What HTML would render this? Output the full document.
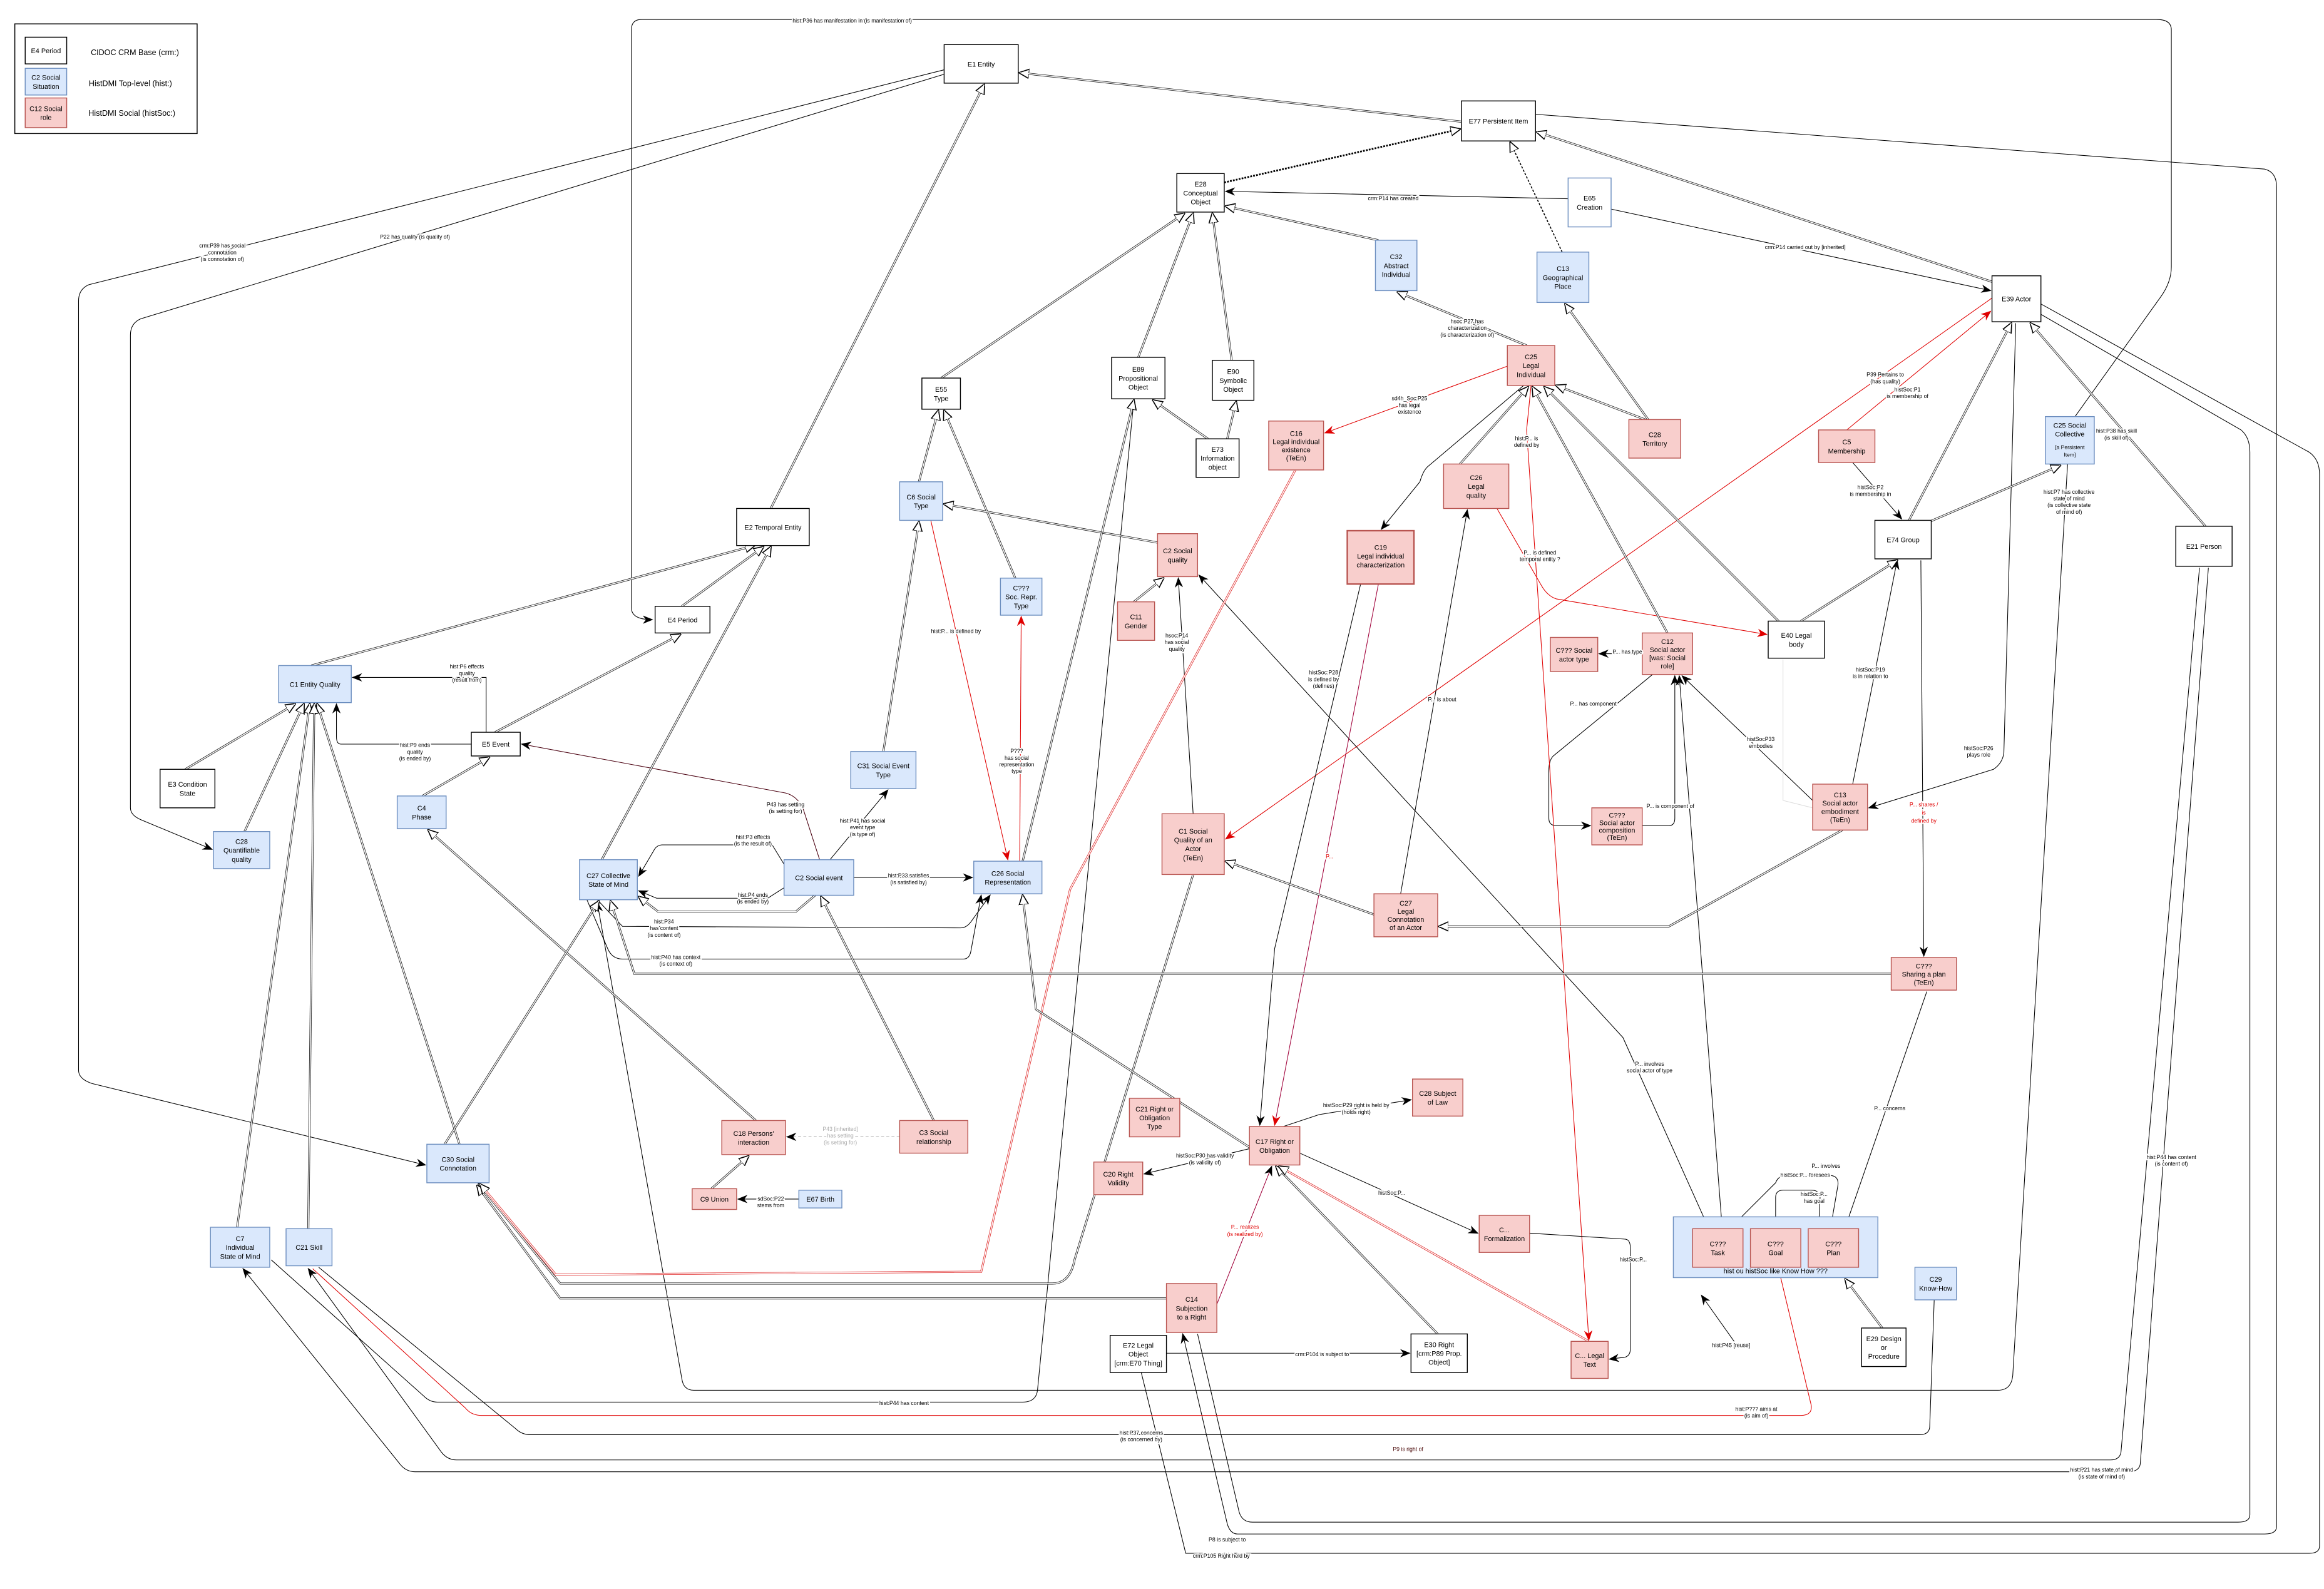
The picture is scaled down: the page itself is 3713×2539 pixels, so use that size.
<!DOCTYPE html>
<html><head><meta charset="utf-8"><style>
html,body{margin:0;padding:0;background:#fff}
svg{display:block}
text{font-family:"Liberation Sans",sans-serif;fill:#000}
.n{font-size:4.6px;text-anchor:middle}
.l{font-size:3.7px;text-anchor:middle;paint-order:stroke;stroke:#fff;stroke-width:1.6px}
.lr{fill:#e00000}
.w{fill:#fff;stroke:#000;stroke-width:0.6}
.b{fill:#dae8fc;stroke:#6c8ebf;stroke-width:0.6}
.p{fill:#f8cecc;stroke:#b85450;stroke-width:0.6}
.t{fill:none;stroke:#000;stroke-width:0.45}
.tr{fill:none;stroke:#e00000;stroke-width:0.45}
.do{fill:none;stroke:#222;stroke-width:1.35}
.di{fill:none;stroke:#fff;stroke-width:0.65}
.dro{fill:none;stroke:#e03030;stroke-width:1.35}
</style></head><body>
<svg width="3713" height="2539" viewBox="0 0 1568 1072" xmlns="http://www.w3.org/2000/svg">
<defs>
<marker id="a" viewBox="0 0 10 10" refX="9" refY="5" markerWidth="7" markerHeight="7" orient="auto" markerUnits="userSpaceOnUse"><path d="M0,1 L10,5 L0,9 L3,5z" fill="#000"/></marker>
<marker id="ar" viewBox="0 0 10 10" refX="9" refY="5" markerWidth="7" markerHeight="7" orient="auto" markerUnits="userSpaceOnUse"><path d="M0,1 L10,5 L0,9 L3,5z" fill="#e00000"/></marker>
<marker id="h" viewBox="0 0 10 10" refX="9" refY="5" markerWidth="7" markerHeight="7" orient="auto" markerUnits="userSpaceOnUse"><path d="M0,0.5 L10,5 L0,9.5z" fill="#fff" stroke="#000" stroke-width="1"/></marker>
</defs>
<rect width="1568" height="1072" fill="#fff"/>

<!-- legend -->
<rect x="10" y="16" width="123" height="74" fill="#fff" stroke="#000" stroke-width="0.6"/>
<rect class="w" x="17" y="25" width="28" height="18"/><text class="n" x="31" y="35.8">E4 Period</text>
<text class="n" x="91" y="37" style="font-size:5.3px">CIDOC CRM Base (crm:)</text>
<rect class="b" x="17" y="46" width="28" height="18"/><text class="n" x="31" y="53.8">C2 Social</text><text class="n" x="31" y="59.8">Situation</text>
<text class="n" x="88" y="58" style="font-size:5.3px">HistDMI Top-level (hist:)</text>
<rect class="p" x="17" y="66" width="28" height="20"/><text class="n" x="31" y="74.8">C12 Social</text><text class="n" x="31" y="80.8">role</text>
<text class="n" x="89" y="78" style="font-size:5.3px">HistDMI Social (histSoc:)</text>

<!-- thin long edges -->
<path class="t" d="M1400,281 L1458,200 Q1465,190 1465,180 L1465,20 Q1465,13 1455,13 L433,13 Q426,13 426,20 L426,410 Q426,418 440,418" marker-end="url(#a)"/>
<path class="t" d="M637,47 L60,192 Q53,195 53,203 L53,722 Q53,728 62,731 L287,786" marker-end="url(#a)"/>
<path class="t" d="M637,50 L95,215 Q88,218 88,226 L88,545 Q88,550 95,553 L143,573" marker-end="url(#a)"/>
<path class="t" d="M1058,134 L827,129" marker-end="url(#a)"/>
<path class="t" d="M1087,141 L1343,196" marker-end="url(#a)"/>
<path class="t" d="M1036,77 L1528,114 Q1536,116 1536,126 L1536,1030 Q1536,1035 1528,1035 L835,1035 Q830,1035 828,1028 L798,900" marker-end="url(#a)"/>
<path class="t" d="M1377,205 L1558,305 Q1565,310 1565,320 L1565,1043 Q1565,1048 1558,1048 L800,1048 L770,926"/>
<path class="t" d="M1377,212 L1512,290 Q1518,295 1518,305 L1518,1022 Q1518,1027 1510,1027 L845,1027 Q838,1027 836,1020 L808,900"/>
<path class="t" d="M1395,313 L1358,928 Q1357,938 1348,938 L468,938 Q461,938 460,930 L403,609" marker-end="url(#a)"/>
<path class="t" d="M765,270 L700,938 Q699,946 690,946 L295,946 Q290,946 286,942 L183,850"/>
<path class="tr" d="M1200,856 L1222,948 Q1223,955 1215,955 L325,955 Q318,955 314,950 L211,856" marker-start="url(#ar)"/>
<path class="t" d="M1305,877 L1302,962 Q1302,968 1295,968 L358,968 Q352,968 348,964 L215,855" marker-start="url(#a)"/>
<path class="t" d="M1484,383 L1431,980 Q1430,985 1424,985 L308,985 Q302,985 298,980 L208,856" marker-end="url(#a)"/>
<path class="t" d="M1490,383 L1444,988 Q1443,993 1436,993 L280,993 Q274,993 270,988 L164,856" marker-end="url(#a)"/>

<!-- right cluster thin -->
<path class="t" d="M1360,218 L1352,508 Q1351,515 1345,519 L1261,545" marker-end="url(#a)"/>
<path class="tr" d="M1344,201 L827,566" marker-end="url(#ar)"/>
<path class="tr" d="M1246,290 L1343,210" marker-end="url(#ar)"/>
<path class="t" d="M1250,312 L1283,350" marker-end="url(#a)"/>
<path class="t" d="M1250,529 L1280,378" marker-end="url(#a)"/>
<path class="t" d="M1296,378 L1298,645" marker-end="url(#a)"/>
<path class="t" d="M1300,669 L1245,828" marker-end="url(#a)"/>
<path class="t" d="M1235,829 L1240,800 Q1241,793 1234,793 L1205,793 Q1200,793 1198,798 L1168,828" marker-end="url(#a)"/>
<path class="t" d="M1227,829 L1228,808 Q1228,803 1222,803 L1203,803 Q1198,803 1198,808 L1198,828" marker-end="url(#a)"/>
<path class="t" d="M1153,829 L1095,700 L809,388" marker-end="url(#a)"/>
<path class="t" d="M1162,829 L1133,456" marker-end="url(#a)"/>
<path class="t" d="M1223,540 L1135,456" marker-end="url(#a)"/>
<path class="t" d="M1108,441 L1079,441" marker-end="url(#a)"/>
<path class="t" d="M1115,455 L1048,510 Q1045,513 1045,520 L1045,552 Q1045,557 1050,557 L1073,557" marker-end="url(#a)"/>
<path class="t" d="M1108,557 L1126,557 Q1130,557 1130,552 L1130,456" marker-end="url(#a)"/>
<path class="t" d="M1203,445 L1203,540 L1223,545" style="stroke:#ddd"/>
<path class="t" d="M1028,260 L963,315 Q960,318 958,325 L932,357" marker-end="url(#a)"/>
<path class="tr" d="M1017,247 L894,292" marker-end="url(#ar)"/>
<path class="tr" d="M1033,260 L1030,290 L1072,904" marker-end="url(#ar)"/>
<path class="tr" d="M1010,343 L1040,395 Q1044,402 1050,404 L1192,428" marker-end="url(#ar)"/>
<path class="t" d="M945,603 L990,344" marker-end="url(#a)"/>
<path class="t" d="M918,394 L860,640 L850,759" marker-end="url(#a)"/>
<path class="tr" d="M930,394 L860,759" style="stroke:#a0003a" marker-end="url(#ar)"/>
<path class="t" d="M805,549 L795,390" marker-end="url(#a)"/>
<path class="t" d="M866,760 L890,752 L952,742" marker-end="url(#a)"/>
<path class="t" d="M843,775 L772,792" marker-end="url(#a)"/>
<path class="t" d="M877,778 L997,832" marker-end="url(#a)"/>
<path class="t" d="M1032,832 L1096,836 Q1100,836 1100,842 L1100,910 Q1100,916 1094,916 L1086,917" marker-end="url(#a)"/>
<path class="t" d="M821,880 L858,787" style="stroke:#a0003a" marker-end="url(#a)"/>
<path class="t" d="M787,913 L951,913" marker-end="url(#a)"/>
<path class="t" d="M1170,905 L1148,874" marker-end="url(#a)"/>

<!-- left cluster thin -->
<path class="t" d="M328,494 L328,457 L238,457" marker-end="url(#a)"/>
<path class="t" d="M318,502 L230,502 Q227,502 227,497 L227,475" marker-end="url(#a)"/>
<path class="t" d="M553,580 L542,546 Q538,537 530,535 L352,502" style="stroke:#4a0010" marker-end="url(#a)"/>
<path class="t" d="M532,588 L521,570 L447,570 Q443,570 441,574 L431,591" marker-end="url(#a)"/>
<path class="t" d="M532,597 L518,606 L443,606 L431,601" marker-end="url(#a)"/>
<path class="t" d="M403,607 L420,625 L648,626 Q652,626 655,622 L668,604" marker-end="url(#a)"/>
<path class="t" d="M396,607 L410,640 Q413,647 420,647 L650,647 Q654,647 655,642 L662,604" marker-end="url(#a)"/>
<path class="t" d="M576,592 L656,592" marker-end="url(#a)"/>
<path class="t" d="M560,580 L599,533" marker-end="url(#a)"/>
<path class="tr" d="M628,351 L680,580" marker-end="url(#ar)"/>
<path class="tr" d="M688,581 L689,416" marker-end="url(#ar)"/>
<path class="t" d="M539,809 L498,809" marker-end="url(#a)"/>
<path class="t" d="M607,767 L531,767" style="stroke:#aaa;stroke-dasharray:2,1.5" marker-end="url(#a)"/>

<!-- inheritance double lines -->
<g>
<path class="do" d="M986,82 L688,49" marker-end="url(#h)"/><path class="di" d="M986,82 L688,49"/>
<path class="t" d="M826,123 L985,87" style="stroke-width:1.2;stroke-dasharray:1.2,0.8" marker-end="url(#h)"/>
<path class="t" d="M1054,170 L1019,96" style="stroke-width:0.7;stroke-dasharray:1.5,1" marker-end="url(#h)"/>
<path class="do" d="M520,343 L664,57" marker-end="url(#h)"/><path class="di" d="M520,343 L664,57"/>
<path class="do" d="M635,255 L799,144" marker-end="url(#h)"/><path class="di" d="M635,255 L799,144"/>
<path class="do" d="M768,241 L805,144" marker-end="url(#h)"/><path class="di" d="M768,241 L805,144"/>
<path class="do" d="M831,243 L818,144" marker-end="url(#h)"/><path class="di" d="M831,243 L818,144"/>
<path class="do" d="M930,162 L827,139" marker-end="url(#h)"/><path class="di" d="M930,162 L827,139"/>
<path class="do" d="M815,296 L778,270" marker-end="url(#h)"/><path class="di" d="M815,296 L778,270"/>
<path class="do" d="M828,296 L834,271" marker-end="url(#h)"/><path class="di" d="M828,296 L834,271"/>
<path class="do" d="M1030,233 L943,197" marker-end="url(#h)"/><path class="di" d="M1030,233 L943,197"/>
<path class="do" d="M1112,283 L1056,205" marker-end="url(#h)"/><path class="di" d="M1112,283 L1056,205"/>
<path class="do" d="M1110,283 L1050,260" marker-end="url(#h)"/><path class="di" d="M1110,283 L1050,260"/>
<path class="do" d="M1200,419 L1042,261" marker-end="url(#h)"/><path class="di" d="M1200,419 L1042,261"/>
<path class="do" d="M1215,419 L1280,378" marker-end="url(#h)"/><path class="di" d="M1215,419 L1280,378"/>
<path class="do" d="M1288,351 L1357,218" marker-end="url(#h)"/><path class="di" d="M1288,351 L1357,218"/>
<path class="do" d="M1488,355 L1370,218" marker-end="url(#h)"/><path class="di" d="M1488,355 L1370,218"/>
<path class="do" d="M1290,357 L1390,314" marker-end="url(#h)"/><path class="di" d="M1290,357 L1390,314"/>
<path class="do" d="M1344,190 L1037,89" marker-end="url(#h)"/><path class="di" d="M1344,190 L1037,89"/>
<path class="do" d="M985,313 L1031,261" marker-end="url(#h)"/><path class="di" d="M985,313 L1031,261"/>
<path class="do" d="M1125,427 L1034,261" marker-end="url(#h)"/><path class="di" d="M1125,427 L1034,261"/>
<path class="do" d="M620,325 L633,277" marker-end="url(#h)"/><path class="di" d="M620,325 L633,277"/>
<path class="do" d="M685,390 L637,277" marker-end="url(#h)"/><path class="di" d="M685,390 L637,277"/>
<path class="do" d="M781,366 L637,340" marker-end="url(#h)"/><path class="di" d="M781,366 L637,340"/>
<path class="do" d="M765,406 L785,390" marker-end="url(#h)"/><path class="di" d="M765,406 L785,390"/>
<path class="do" d="M596,507 L620,352" marker-end="url(#h)"/><path class="di" d="M596,507 L620,352"/>
<path class="do" d="M210,449 L509,368" marker-end="url(#h)"/><path class="di" d="M210,449 L509,368"/>
<path class="do" d="M460,409 L515,369" marker-end="url(#h)"/><path class="di" d="M460,409 L515,369"/>
<path class="do" d="M334,494 L459,428" marker-end="url(#h)"/><path class="di" d="M334,494 L459,428"/>
<path class="do" d="M125,519 L199,475" marker-end="url(#h)"/><path class="di" d="M125,519 L199,475"/>
<path class="do" d="M165,561 L205,475" marker-end="url(#h)"/><path class="di" d="M165,561 L205,475"/>
<path class="do" d="M285,537 L330,511" marker-end="url(#h)"/><path class="di" d="M285,537 L330,511"/>
<path class="do" d="M406,580 L520,369" marker-end="url(#h)"/><path class="di" d="M406,580 L520,369"/>
<path class="do" d="M550,604 L537,615 L444,615 L431,605" marker-end="url(#h)"/><path class="di" d="M550,604 L537,615 L444,615 L431,605"/>
<path class="do" d="M690,581 L765,270" marker-end="url(#h)"/><path class="di" d="M690,581 L765,270"/>
<path class="do" d="M630,756 L554,605" marker-end="url(#h)"/><path class="di" d="M630,756 L554,605"/>
<path class="do" d="M510,756 L289,560" marker-end="url(#h)"/><path class="di" d="M510,756 L289,560"/>
<path class="do" d="M480,802 L505,780" marker-end="url(#h)"/><path class="di" d="M480,802 L505,780"/>
<path class="do" d="M300,772 L404,608" marker-end="url(#h)"/><path class="di" d="M300,772 L404,608"/>
<path class="do" d="M310,772 L214,475" marker-end="url(#h)"/><path class="di" d="M310,772 L214,475"/>
<path class="do" d="M160,828 L209,475" marker-end="url(#h)"/><path class="di" d="M160,828 L209,475"/>
<path class="do" d="M208,829 L212,475" marker-end="url(#h)"/><path class="di" d="M208,829 L212,475"/>
<path class="do" d="M805,590 L725,850 Q722,866 710,866 L378,866 L323,799" marker-end="url(#h)"/><path class="di" d="M805,590 L725,850 Q722,866 710,866 L378,866 L323,799"/>
<path class="do" d="M787,876 L378,876 L322,800" marker-end="url(#h)"/><path class="di" d="M787,876 L378,876 L322,800"/>
<path class="dro" d="M874,317 L722,600 L662,858 L375,860 L324,799" marker-end="url(#h)"/><path class="di" d="M874,317 L722,600 L662,858 L375,860 L324,799"/>
<path class="do" d="M927,617 L827,581" marker-end="url(#h)"/><path class="di" d="M927,617 L827,581"/>
<path class="do" d="M1243,560 L1126,625 L971,625" marker-end="url(#h)"/><path class="di" d="M1243,560 L1126,625 L971,625"/>
<path class="do" d="M1276,657 L428,657 L412,608" marker-end="url(#h)"/><path class="di" d="M1276,657 L428,657 L412,608"/>
<path class="do" d="M843,774 L699,681 L690,604" marker-end="url(#h)"/><path class="di" d="M843,774 L699,681 L690,604"/>
<path class="do" d="M970,900 L861,787" marker-end="url(#h)"/><path class="di" d="M970,900 L861,787"/>
<path class="dro" d="M1072,905 L863,787" marker-end="url(#h)"/><path class="di" d="M1072,905 L863,787"/>
<path class="do" d="M1270,896 L1245,863" marker-end="url(#h)"/><path class="di" d="M1270,896 L1245,863"/>
</g>

<!-- container -->
<rect class="b" x="1129" y="821" width="138" height="41"/>
<text class="n" x="1198" y="859">hist ou histSoc like Know How ???</text>

<!-- nodes -->
<rect class="w" x="637" y="30" width="50" height="26"/><text class="n" x="662" y="44.8">E1 Entity</text>
<rect class="w" x="986" y="68" width="50" height="27"/><text class="n" x="1011" y="83.3">E77 Persistent Item</text>
<rect class="w" x="794" y="117" width="32" height="26"/><text class="n" x="810" y="125.8">E28</text><text class="n" x="810" y="131.8">Conceptual</text><text class="n" x="810" y="137.8">Object</text>
<rect class="w" x="1058" y="120" width="29" height="33" style="stroke:#6c8ebf"/><text class="n" x="1072.5" y="135.3">E65</text><text class="n" x="1072.5" y="141.3">Creation</text>
<rect class="b" x="928" y="162" width="28" height="34"/><text class="n" x="942" y="174.8">C32</text><text class="n" x="942" y="180.8">Abstract</text><text class="n" x="942" y="186.8">Individual</text>
<rect class="b" x="1037" y="170" width="35" height="34"/><text class="n" x="1054.5" y="182.8">C13</text><text class="n" x="1054.5" y="188.8">Geographical</text><text class="n" x="1054.5" y="194.8">Place</text>
<rect class="w" x="1344" y="186" width="33" height="31"/><text class="n" x="1360.5" y="203.3">E39 Actor</text>
<rect class="p" x="1017" y="233" width="32" height="27"/><text class="n" x="1033" y="242.3">C25</text><text class="n" x="1033" y="248.3">Legal</text><text class="n" x="1033" y="254.3">Individual</text>
<rect class="p" x="1099" y="283" width="35" height="26"/><text class="n" x="1116.5" y="294.8">C28</text><text class="n" x="1116.5" y="300.8">Territory</text>
<rect class="w" x="750" y="241" width="36" height="28"/><text class="n" x="768" y="250.8">E89</text><text class="n" x="768" y="256.8">Propositional</text><text class="n" x="768" y="262.8">Object</text>
<rect class="w" x="818" y="243" width="28" height="27"/><text class="n" x="832" y="252.3">E90</text><text class="n" x="832" y="258.3">Symbolic</text><text class="n" x="832" y="264.3">Object</text>
<rect class="w" x="622" y="255" width="26" height="21"/><text class="n" x="635" y="264.3">E55</text><text class="n" x="635" y="270.3">Type</text>
<rect class="w" x="807" y="296" width="29" height="26"/><text class="n" x="821.5" y="304.8">E73</text><text class="n" x="821.5" y="310.8">Information</text><text class="n" x="821.5" y="316.8">object</text>
<rect class="p" x="856" y="284" width="37" height="33"/><text class="n" x="874.5" y="294">C16</text><text class="n" x="874.5" y="299.5">Legal individual</text><text class="n" x="874.5" y="305">existence</text><text class="n" x="874.5" y="310.5">(TeEn)</text>
<rect class="p" x="974" y="313" width="44" height="30"/><text class="n" x="996" y="323.8">C26</text><text class="n" x="996" y="329.8">Legal</text><text class="n" x="996" y="335.8">quality</text>
<rect class="p" x="1227" y="290" width="38" height="22"/><text class="n" x="1246" y="299.8">C5</text><text class="n" x="1246" y="305.8">Membership</text>
<rect class="b" x="1380" y="281" width="33" height="32"/><text class="n" x="1396.5" y="288.5">C25 Social</text><text class="n" x="1396.5" y="294.5">Collective</text><text class="n" x="1396.5" y="303" style="font-size:3.6px">[a Persistent</text><text class="n" x="1396.5" y="308" style="font-size:3.6px">Item]</text>
<rect class="b" x="607" y="325" width="29" height="26"/><text class="n" x="621.5" y="336.8">C6 Social</text><text class="n" x="621.5" y="342.8">Type</text>
<rect class="w" x="497" y="343" width="49" height="25"/><text class="n" x="521.5" y="357.3">E2 Temporal Entity</text>
<rect class="p" x="781" y="360" width="27" height="29"/><text class="n" x="794.5" y="373.3">C2 Social</text><text class="n" x="794.5" y="379.3">quality</text>
<rect class="p" x="909" y="358" width="45" height="36" style="stroke-width:1"/><text class="n" x="931.5" y="370.8">C19</text><text class="n" x="931.5" y="376.8">Legal individual</text><text class="n" x="931.5" y="382.8">characterization</text>
<rect class="w" x="1265" y="351" width="38" height="26"/><text class="n" x="1284" y="365.8">E74 Group</text>
<rect class="w" x="1468" y="355" width="38" height="27"/><text class="n" x="1487" y="370.3">E21 Person</text>
<rect class="b" x="675" y="390" width="28" height="25"/><text class="n" x="689" y="398.3">C???</text><text class="n" x="689" y="404.3">Soc. Repr.</text><text class="n" x="689" y="410.3">Type</text>
<rect class="p" x="754" y="406" width="25" height="26"/><text class="n" x="766.5" y="417.8">C11</text><text class="n" x="766.5" y="423.8">Gender</text>
<rect class="w" x="442" y="409" width="37" height="18"/><text class="n" x="460.5" y="419.8">E4 Period</text>
<rect class="p" x="1046" y="430" width="32" height="23"/><text class="n" x="1062" y="440.3">C??? Social</text><text class="n" x="1062" y="446.3">actor type</text>
<rect class="p" x="1108" y="427" width="34" height="28"/><text class="n" x="1125" y="434.5">C12</text><text class="n" x="1125" y="440">Social actor</text><text class="n" x="1125" y="445.5">[was: Social</text><text class="n" x="1125" y="451">role]</text>
<rect class="w" x="1193" y="419" width="38" height="25"/><text class="n" x="1212" y="430.3">E40 Legal</text><text class="n" x="1212" y="436.3">body</text>
<rect class="b" x="188" y="449" width="49" height="25"/><text class="n" x="212.5" y="463.3">C1 Entity Quality</text>
<rect class="w" x="318" y="494" width="33" height="16"/><text class="n" x="334.5" y="503.8">E5 Event</text>
<rect class="b" x="574" y="507" width="44" height="25"/><text class="n" x="596" y="518.3">C31 Social Event</text><text class="n" x="596" y="524.3">Type</text>
<rect class="w" x="108" y="519" width="37" height="26"/><text class="n" x="126.5" y="530.8">E3 Condition</text><text class="n" x="126.5" y="536.8">State</text>
<rect class="p" x="1223" y="529" width="37" height="31"/><text class="n" x="1241.5" y="538">C13</text><text class="n" x="1241.5" y="543.5">Social actor</text><text class="n" x="1241.5" y="549">embodiment</text><text class="n" x="1241.5" y="554.5">(TeEn)</text>
<rect class="b" x="268" y="537" width="33" height="22"/><text class="n" x="284.5" y="546.8">C4</text><text class="n" x="284.5" y="552.8">Phase</text>
<rect class="p" x="1074" y="545" width="34" height="25"/><text class="n" x="1091" y="551.7">C???</text><text class="n" x="1091" y="556.7">Social actor</text><text class="n" x="1091" y="561.7">composition</text><text class="n" x="1091" y="566.7">(TeEn)</text>
<rect class="p" x="784" y="549" width="42" height="41"/><text class="n" x="805" y="562.3">C1 Social</text><text class="n" x="805" y="568.3">Quality of an</text><text class="n" x="805" y="574.3">Actor</text><text class="n" x="805" y="580.3">(TeEn)</text>
<rect class="b" x="144" y="561" width="38" height="25"/><text class="n" x="163" y="569.3">C28</text><text class="n" x="163" y="575.3">Quantifiable</text><text class="n" x="163" y="581.3">quality</text>
<rect class="b" x="391" y="580" width="39" height="27"/><text class="n" x="410.5" y="592.3">C27 Collective</text><text class="n" x="410.5" y="598.3">State of Mind</text>
<rect class="b" x="529" y="580" width="47" height="24"/><text class="n" x="552.5" y="593.8">C2 Social event</text>
<rect class="b" x="657" y="581" width="46" height="22"/><text class="n" x="680" y="590.8">C26 Social</text><text class="n" x="680" y="596.8">Representation</text>
<rect class="p" x="927" y="603" width="43" height="29"/><text class="n" x="948.5" y="611">C27</text><text class="n" x="948.5" y="616.5">Legal</text><text class="n" x="948.5" y="622">Connotation</text><text class="n" x="948.5" y="627.5">of an Actor</text>
<rect class="p" x="1276" y="646" width="44" height="22"/><text class="n" x="1298" y="653.3">C???</text><text class="n" x="1298" y="658.8">Sharing a plan</text><text class="n" x="1298" y="664.3">(TeEn)</text>
<rect class="p" x="953" y="728" width="34" height="25"/><text class="n" x="970" y="739.3">C28 Subject</text><text class="n" x="970" y="745.3">of Law</text>
<rect class="p" x="762" y="741" width="34" height="26"/><text class="n" x="779" y="749.8">C21 Right or</text><text class="n" x="779" y="755.8">Obligation</text><text class="n" x="779" y="761.8">Type</text>
<rect class="p" x="487" y="756" width="43" height="23"/><text class="n" x="508.5" y="766.3">C18 Persons'</text><text class="n" x="508.5" y="772.3">interaction</text>
<rect class="p" x="607" y="756" width="46" height="22"/><text class="n" x="630" y="765.8">C3 Social</text><text class="n" x="630" y="771.8">relationship</text>
<rect class="p" x="843" y="760" width="34" height="26"/><text class="n" x="860" y="771.8">C17 Right or</text><text class="n" x="860" y="777.8">Obligation</text>
<rect class="b" x="288" y="772" width="42" height="26"/><text class="n" x="309" y="783.8">C30 Social</text><text class="n" x="309" y="789.8">Connotation</text>
<rect class="p" x="738" y="784" width="33" height="22"/><text class="n" x="754.5" y="793.8">C20 Right</text><text class="n" x="754.5" y="799.8">Validity</text>
<rect class="p" x="467" y="802" width="30" height="14"/><text class="n" x="482" y="810.8">C9 Union</text>
<rect class="b" x="539" y="803" width="29" height="12"/><text class="n" x="553.5" y="810.8">E67 Birth</text>
<rect class="p" x="998" y="820" width="34" height="25"/><text class="n" x="1015" y="831.3">C...</text><text class="n" x="1015" y="837.3">Formalization</text>
<rect class="p" x="1142" y="829" width="34" height="26"/><text class="n" x="1159" y="840.8">C???</text><text class="n" x="1159" y="846.8">Task</text>
<rect class="p" x="1181" y="829" width="34" height="26"/><text class="n" x="1198" y="840.8">C???</text><text class="n" x="1198" y="846.8">Goal</text>
<rect class="p" x="1220" y="829" width="34" height="26"/><text class="n" x="1237" y="840.8">C???</text><text class="n" x="1237" y="846.8">Plan</text>
<rect class="b" x="142" y="828" width="40" height="27"/><text class="n" x="162" y="837.3">C7</text><text class="n" x="162" y="843.3">Individual</text><text class="n" x="162" y="849.3">State of Mind</text>
<rect class="b" x="193" y="829" width="31" height="25"/><text class="n" x="208.5" y="843.3">C21 Skill</text>
<rect class="b" x="1292" y="855" width="28" height="22"/><text class="n" x="1306" y="864.8">C29</text><text class="n" x="1306" y="870.8">Know-How</text>
<rect class="p" x="787" y="866" width="34" height="33"/><text class="n" x="804" y="878.3">C14</text><text class="n" x="804" y="884.3">Subjection</text><text class="n" x="804" y="890.3">to a Right</text>
<rect class="w" x="749" y="901" width="38" height="25"/><text class="n" x="768" y="909.3">E72 Legal</text><text class="n" x="768" y="915.3">Object</text><text class="n" x="768" y="921.3">[crm:E70 Thing]</text>
<rect class="w" x="952" y="900" width="38" height="26"/><text class="n" x="971" y="908.8">E30 Right</text><text class="n" x="971" y="914.8">[crm:P89 Prop.</text><text class="n" x="971" y="920.8">Object]</text>
<rect class="w" x="1256" y="896" width="30" height="26"/><text class="n" x="1271" y="904.8">E29 Design</text><text class="n" x="1271" y="910.8">or</text><text class="n" x="1271" y="916.8">Procedure</text>
<rect class="p" x="1060" y="905" width="25" height="25"/><text class="n" x="1072.5" y="916.3">C... Legal</text><text class="n" x="1072.5" y="922.3">Text</text>

<!-- edge labels -->
<text class="l" x="575" y="15">hist:P36 has manifestation in (is manifestation of)</text>
<text class="l" x="150" y="167">crm:P39 has social</text><text class="l" x="150" y="171.5">connotation</text><text class="l" x="150" y="176">(is connotation of)</text>
<text class="l" x="280" y="161">P22 has quality (is quality of)</text>
<text class="l" x="940" y="135">crm:P14 has created</text>
<text class="l" x="1218" y="168">crm:P14 carried out by [inherited]</text>
<text class="l" x="990" y="218">hsoc:P27 has</text><text class="l" x="990" y="222.5">characterization</text><text class="l" x="990" y="227">(is characterization of)</text>
<text class="l" x="951" y="270">sd4h_Soc:P25</text><text class="l" x="951" y="274.5">has legal</text><text class="l" x="951" y="279">existence</text>
<text class="l" x="1030" y="297">hist:P... is</text><text class="l" x="1030" y="301.5">defined by</text>
<text class="l" x="1272" y="254">P39 Pertains to</text><text class="l" x="1272" y="258.5">(has quality)</text>
<text class="l" x="1287" y="264">histSoc:P1</text><text class="l" x="1287" y="268.5">is membership of</text>
<text class="l" x="1262" y="330">histSoc:P2</text><text class="l" x="1262" y="334.5">is membership in</text>
<text class="l" x="1428" y="292">hist:P38 has skill</text><text class="l" x="1428" y="296.5">(is skill of)</text>
<text class="l" x="1396" y="333">hist:P7 has collective</text><text class="l" x="1396" y="337.5">state of mind</text><text class="l" x="1396" y="342">(is collective state</text><text class="l" x="1396" y="346.5">of mind of)</text>
<text class="l" x="1039" y="374">P... is defined</text><text class="l" x="1039" y="378.5">temporal entity ?</text>
<text class="l" x="794" y="430">hsoc:P14</text><text class="l" x="794" y="434.5">has social</text><text class="l" x="794" y="439">quality</text>
<text class="l" x="645" y="427">hist:P... is defined by</text>
<text class="l" x="1098" y="441">P... has type</text>
<text class="l" x="1075" y="476">P... has component</text>
<text class="l" x="1262" y="453">histSoc:P19</text><text class="l" x="1262" y="457.5">is in relation to</text>
<text class="l" x="893" y="455">histSoc:P28</text><text class="l" x="893" y="459.5">is defined by</text><text class="l" x="893" y="464">(defines)</text>
<text class="l" x="973" y="473">P... is about</text>
<text class="l" x="1188" y="500">histSocP33</text><text class="l" x="1188" y="504.5">embodies</text>
<text class="l" x="1335" y="506">histSoc:P26</text><text class="l" x="1335" y="510.5">plays role</text>
<text class="l" x="1127" y="545">P... is component of</text>
<text class="l lr" x="1298" y="544">P... shares /</text><text class="l lr" x="1298" y="549.5">is</text><text class="l lr" x="1298" y="555">defined by</text>
<text class="l" x="315" y="451">hist:P6 effects</text><text class="l" x="315" y="455.5">quality</text><text class="l" x="315" y="460">(result from)</text>
<text class="l" x="280" y="504">hist:P9 ends</text><text class="l" x="280" y="508.5">quality</text><text class="l" x="280" y="513">(is ended by)</text>
<text class="l" x="530" y="544">P43 has setting</text><text class="l" x="530" y="548.5">(is setting for)</text>
<text class="l" x="582" y="555">hist:P41 has social</text><text class="l" x="582" y="559.5">event type</text><text class="l" x="582" y="564">(is type of)</text>
<text class="l" x="686" y="508">P???</text><text class="l" x="686" y="512.5">has social</text><text class="l" x="686" y="517">representation</text><text class="l" x="686" y="521.5">type</text>
<text class="l" x="508" y="566">hist:P3 effects</text><text class="l" x="508" y="570.5">(is the result of)</text>
<text class="l" x="508" y="605">hist:P4 ends</text><text class="l" x="508" y="609.5">(is ended by)</text>
<text class="l" x="613" y="592">hist:P33 satisfies</text><text class="l" x="613" y="596.5">(is satisfied by)</text>
<text class="l" x="448" y="623">hist:P34</text><text class="l" x="448" y="627.5">has content</text><text class="l" x="448" y="632">(is content of)</text>
<text class="l" x="456" y="647">hist:P40 has context</text><text class="l" x="456" y="651.5">(is context of)</text>
<text class="l lr" x="897" y="579">P...</text>
<text class="l" x="1113" y="719">P... involves</text><text class="l" x="1113" y="723.5">social actor of type</text>
<text class="l" x="1275" y="749">P... concerns</text>
<text class="l" x="1232" y="788">P... involves</text>
<text class="l" x="1218" y="794">histSoc:P... foresees</text>
<text class="l" x="1224" y="807">histSoc:P...</text><text class="l" x="1224" y="811.5">has goal</text>
<text class="l" x="915" y="747">histSoc:P29 right is held by</text><text class="l" x="915" y="751.5">(holds right)</text>
<text class="l" x="813" y="781">histSoc:P30 has validity</text><text class="l" x="813" y="785.5">(is validity of)</text>
<text class="l" x="939" y="806">histSoc:P...</text>
<text class="l" x="1102" y="851">histSoc:P...</text>
<text class="l lr" x="840" y="829">P... realizes</text><text class="l lr" x="840" y="834">(is realized by)</text>
<text class="l" x="567" y="763" style="fill:#aaa">P43 [inherited]</text><text class="l" x="567" y="767.5" style="fill:#aaa">has setting</text><text class="l" x="567" y="772" style="fill:#aaa">(is setting for)</text>
<text class="l" x="520" y="810">sdSoc:P22</text><text class="l" x="520" y="814.5">stems from</text>
<text class="l" x="892" y="915">crm:P104 is subject to</text>
<text class="l" x="1168" y="909">hist:P45 [reuse]</text>
<text class="l" x="610" y="948">hist:P44 has content</text>
<text class="l" x="1185" y="952">hist:P??? aims at</text><text class="l" x="1185" y="956.5">(is aim of)</text>
<text class="l" x="770" y="968">hist:P37 concerns</text><text class="l" x="770" y="972.5">(is concerned by)</text>
<text class="l" x="950" y="979" style="fill:#400">P9 is right of</text>
<text class="l" x="1465" y="782">hist:P44 has content</text><text class="l" x="1465" y="786.5">(is content of)</text>
<text class="l" x="1418" y="993">hist:P21 has state of mind</text><text class="l" x="1418" y="997.5">(is state of mind of)</text>
<text class="l" x="828" y="1040">P8 is subject to</text>
<text class="l" x="824" y="1051">crm:P105 Right held by</text>
</svg>
</body></html>
